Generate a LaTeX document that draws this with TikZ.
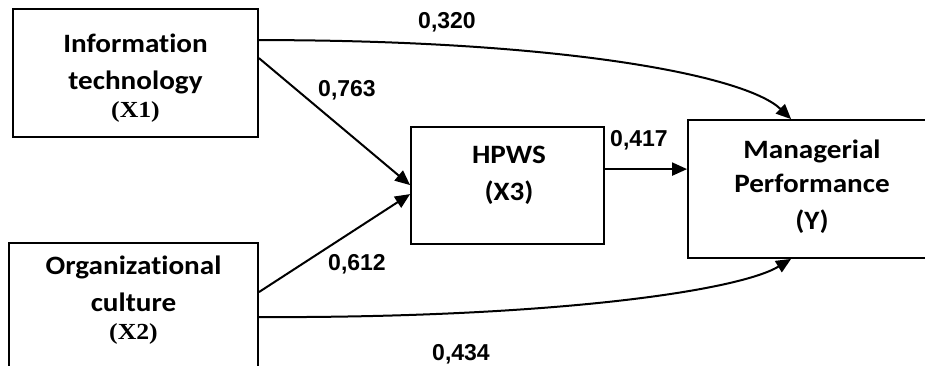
\documentclass[tikz,border=0pt]{standalone}
\usepackage{fontspec}
\usetikzlibrary{arrows.meta,calc}
\newfontfamily\boxfont[FakeStretch=1.1,Ligatures={NoCommon}]{Carlito}
\newfontfamily\varfont[FakeStretch=1.12]{Liberation Serif}
\newfontfamily\numfont{Liberation Sans}
\tikzset{
  box/.style={draw=black, line width=1.8pt, inner sep=0pt, fill=white},
  txt/.style={align=center, inner sep=0pt, font=\boxfont\bfseries\fontsize{26.5}{37}\selectfont},
  num/.style={inner sep=0pt, font=\numfont\bfseries\fontsize{23}{26}\selectfont},
  conn/.style={line width=2pt, -{Triangle[length=15pt,width=13pt]}}
}
\newcommand{\vlab}[1]{{\varfont\bfseries\fontsize{23}{30}\selectfont #1}}
\begin{document}
\begin{tikzpicture}[x=1pt,y=-1pt]
\useasboundingbox (0,0) rectangle (925,366);
% boxes
\node[box, minimum width=245pt, minimum height=128pt] (x1) at (135.5,73) {};
\node[box, minimum width=249pt, minimum height=129pt] (x2) at (133.5,307.5) {};
\node[box, minimum width=193pt, minimum height=117pt] (x3) at (507.5,185.5) {};
\node[box, minimum width=248pt, minimum height=138pt] (y) at (812,189) {};
% texts
\node[txt] (x1t) at (135.5,78) {Information\\technology\\[-9pt]\vlab{(X1)}};
\node[txt] (x2t) at (133.5,300) {Organizational\\culture\\[-9pt]\vlab{(X2)}};
\node[txt] (x3t) at (509,175) {HPWS\\(X3)};
\node[txt] (yt) at (812,187) {Managerial\\[-3pt]Performance\\(Y)};
% connectors
\coordinate (x1a) at ($(x1.north east)+(0,32)$);
\coordinate (x1b) at ($(x1.north east)+(0,50)$);
\draw[conn] (x1a) .. controls (560,40) and (745,75) .. ($(y.north west)+(104,0)$);
\draw[conn] (x1b) -- ($(x3.north west)+(0,59)$);
\draw[conn] ($(x2.north east)+(0,50)$) -- ($(x3.north west)+(0,68)$);
\draw[conn] ($(x3.north east)+(0,43)$) -- ($(y.north west)+(0,50)$);
\draw[conn] ($(x2.north east)+(0,75)$) .. controls (560,318) and (740,290) .. ($(y.south west)+(104,0)$);
% labels
\node[num] (l1) at (447,22) {0,320};
\node[num] (l2) at (347,90) {0,763};
\node[num] (l3) at (639,140) {0,417};
\node[num] (l4) at (357,264) {0,612};
\node[num] (l5) at (461,354) {0,434};
\end{tikzpicture}
\end{document}
